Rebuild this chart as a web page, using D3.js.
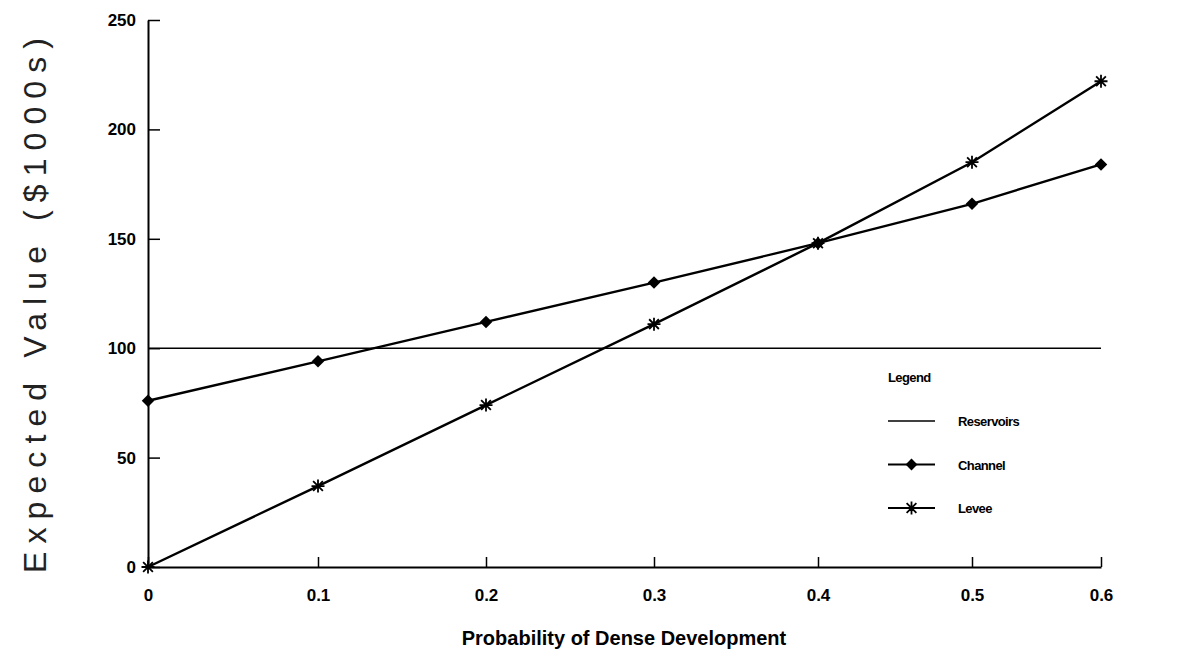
<!DOCTYPE html>
<html>
<head>
<meta charset="utf-8">
<script src="https://cdn.jsdelivr.net/npm/d3@7"></script>
<style>
  body { margin: 0; background: #fff; }
  svg { display: block; }
</style>
</head>
<body>
<div id="chart"></div>
<script>
// chart data
const probs = [0, 0.1, 0.2, 0.3, 0.4, 0.5, 0.6];
const reservoirs = [100, 100, 100, 100, 100, 100, 100];
const channel = [76, 94, 112, 130, 148, 166, 184];
const levee = [0, 37, 74, 111, 148, 185, 222];
const yTicks = [0, 50, 100, 150, 200, 250];
const xTicks = [0, 0.1, 0.2, 0.3, 0.4, 0.5, 0.6];

const width = 1177, height = 657;
const margin = { top: 20, right: 76, bottom: 90, left: 148 };

const svg = d3.select('#chart')
  .append('svg')
  .attr('width', width)
  .attr('height', height);

// the scanned original is slightly stretched in the middle, so use a piecewise scale
const x = d3.scaleLinear()
  .domain(xTicks)
  .range([148, 318, 486, 654, 818, 972, 1101]);

const y = d3.scaleLinear()
  .domain([0, 250])
  .range([height - margin.bottom, margin.top]);

// axes (ticks point inward)
const yAxis = svg.append('g')
  .attr('transform', `translate(${margin.left},0)`)
  .call(d3.axisLeft(y).tickValues(yTicks).tickSizeInner(-12).tickSizeOuter(0).tickPadding(24));
const xAxis = svg.append('g')
  .attr('transform', `translate(0,${height - margin.bottom})`)
  .call(d3.axisBottom(x).tickValues(xTicks).tickSizeInner(-10).tickSizeOuter(0).tickPadding(22)
    .tickFormat(d => d === 0 ? '0' : d3.format('.1f')(d)));

[xAxis, yAxis].forEach(g => {
  g.select('.domain').attr('stroke', '#000').attr('stroke-width', 2);
  g.selectAll('.tick line').attr('stroke', '#000').attr('stroke-width', 1.5);
  g.selectAll('.tick text')
    .attr('fill', '#000')
    .style('font-family', '"Liberation Sans", Arial, sans-serif')
    .style('font-weight', 'bold')
    .style('font-size', '17px');
});
yAxis.selectAll('.tick text').attr('dx', 12);

// axis titles
svg.append('text')
  .attr('transform', `translate(46,${(y(0) + y(250)) / 2 + 12}) rotate(-90)`)
  .attr('text-anchor', 'middle')
  .attr('textLength', 535)
  .attr('lengthAdjust', 'spacing')
  .style('font-family', '"Liberation Sans", Arial, sans-serif')
  .style('font-size', '32px')
  .style('font-weight', 300)
  .attr('fill', '#222')
  .text('Expected Value ($1000s)');

svg.append('text')
  .attr('x', 624)
  .attr('y', 645)
  .attr('text-anchor', 'middle')
  .style('font-family', '"Liberation Sans", Arial, sans-serif')
  .style('font-size', '20px')
  .style('font-weight', 'bold')
  .attr('fill', '#000')
  .text('Probability of Dense Development');

// markers
const diamond = d3.symbol().type(d3.symbolSquare).size(78);
const starPath = r => `M${-r},0L${r},0M0,${-r}L0,${r}M${-r * 0.75},${-r * 0.75}L${r * 0.75},${r * 0.75}M${-r * 0.75},${r * 0.75}L${r * 0.75},${-r * 0.75}`;

const line = d3.line()
  .x((d, i) => x(probs[i]))
  .y(d => y(d));

svg.append('path').datum(reservoirs)
  .attr('d', line).attr('fill', 'none').attr('stroke', '#000').attr('stroke-width', 1.6);
svg.append('path').datum(channel)
  .attr('d', line).attr('fill', 'none').attr('stroke', '#000').attr('stroke-width', 2.4);
svg.append('path').datum(levee)
  .attr('d', line).attr('fill', 'none').attr('stroke', '#000').attr('stroke-width', 2.4);

svg.append('g').selectAll('path')
  .data(channel)
  .join('path')
  .attr('transform', (d, i) => `translate(${x(probs[i])},${y(d)}) rotate(45)`)
  .attr('d', diamond)
  .attr('fill', '#000');

svg.append('g').selectAll('path')
  .data(levee)
  .join('path')
  .attr('transform', (d, i) => `translate(${x(probs[i])},${y(d)})`)
  .attr('d', starPath(6.5))
  .attr('stroke', '#000')
  .attr('stroke-width', 1.8)
  .attr('fill', 'none');

// legend
const legendItems = [
  { name: 'Reservoirs', mark: null, w: 1.6 },
  { name: 'Channel', mark: 'diamond', w: 2 },
  { name: 'Levee', mark: 'star', w: 2 }
];
const lg = svg.append('g').attr('transform', 'translate(888,377)');
lg.append('text')
  .attr('x', 0).attr('y', 5)
  .style('font-family', '"Liberation Sans", Arial, sans-serif')
  .style('font-size', '13px')
  .style('font-weight', 'bold')
  .style('letter-spacing', '-0.6px')
  .text('Legend');
const li = lg.selectAll('g.item')
  .data(legendItems)
  .join('g')
  .attr('class', 'item')
  .attr('transform', (d, i) => `translate(0,${44 + i * 43.5})`);
li.append('line')
  .attr('x1', 0).attr('x2', 47)
  .attr('stroke', '#000').attr('stroke-width', d => d.w);
li.filter(d => d.mark === 'diamond').append('path')
  .attr('transform', 'translate(23.5,0) rotate(45)')
  .attr('d', d3.symbol().type(d3.symbolSquare).size(70))
  .attr('fill', '#000');
li.filter(d => d.mark === 'star').append('path')
  .attr('transform', 'translate(23.5,0)')
  .attr('d', starPath(6.5))
  .attr('stroke', '#000').attr('stroke-width', 1.8);
li.append('text')
  .attr('x', 70).attr('y', 5)
  .style('font-family', '"Liberation Sans", Arial, sans-serif')
  .style('font-size', '13px')
  .style('font-weight', 'bold')
  .style('letter-spacing', '-0.6px')
  .text(d => d.name);
</script>
</body>
</html>
